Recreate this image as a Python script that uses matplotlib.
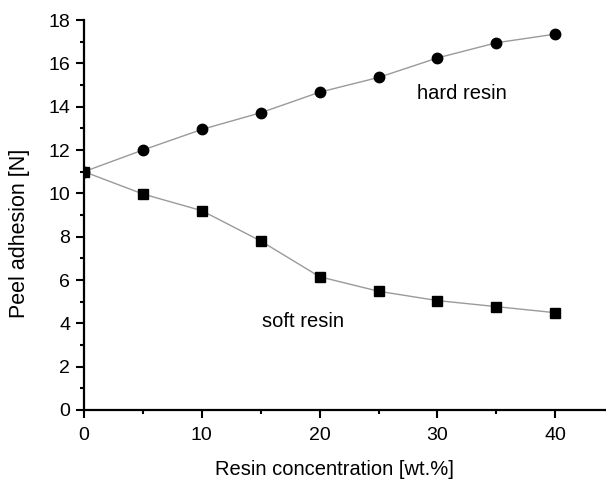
import matplotlib
matplotlib.use('Agg')
import matplotlib.pyplot as plt
from matplotlib.ticker import MultipleLocator

plt.rcParams['font.family'] = ['Liberation Sans', 'DejaVu Sans']

conc = [0, 5, 10, 15, 20, 25, 30, 35, 40]
hard_resin = [11.0, 12.0, 12.95, 13.72, 14.67, 15.35, 16.25, 16.95, 17.35]
soft_resin = [11.0, 9.97, 9.2, 7.8, 6.15, 5.48, 5.05, 4.77, 4.49]

fig = plt.figure(figsize=(6.06, 4.86), dpi=100)
ax = fig.add_axes([0.1386, 0.1564, 0.8614, 0.8024])

ax.plot(conc, hard_resin, color='#9a9a9a', lw=1.0, marker='o', ms=7.5,
        mfc='black', mec='black', zorder=3)
ax.plot(conc, soft_resin, color='#9a9a9a', lw=1.0, marker='s', ms=7,
        mfc='black', mec='black', zorder=3)

ax.text(32.1, 14.6, 'hard resin', fontsize=14.5, ha='center', va='center')
ax.text(18.6, 4.1, 'soft resin', fontsize=14.5, ha='center', va='center')

ax.set_xlim(0, 44.3)
ax.set_ylim(0, 18)
ax.xaxis.set_major_locator(MultipleLocator(10))
ax.xaxis.set_minor_locator(MultipleLocator(5))
ax.yaxis.set_major_locator(MultipleLocator(2))
ax.yaxis.set_minor_locator(MultipleLocator(1))

for s in ['top', 'right']:
    ax.spines[s].set_visible(False)
for s in ['left', 'bottom']:
    ax.spines[s].set_linewidth(1.6)
ax.spines['left'].set_zorder(4)

ax.tick_params(which='major', direction='out', length=6, width=1.5,
               labelsize=14, pad=4)
ax.tick_params(which='minor', direction='out', length=3, width=1.5)
ax.tick_params(axis='x', which='major', pad=6)

ax.set_xlabel('Resin concentration [wt.%]', fontsize=14.5)
ax.set_ylabel('Peel adhesion [N]', fontsize=15.5)
ax.xaxis.set_label_coords(0.48, -0.128)
ax.yaxis.set_label_coords(-0.103, 0.454)

fig.savefig('out.png', dpi=100)
